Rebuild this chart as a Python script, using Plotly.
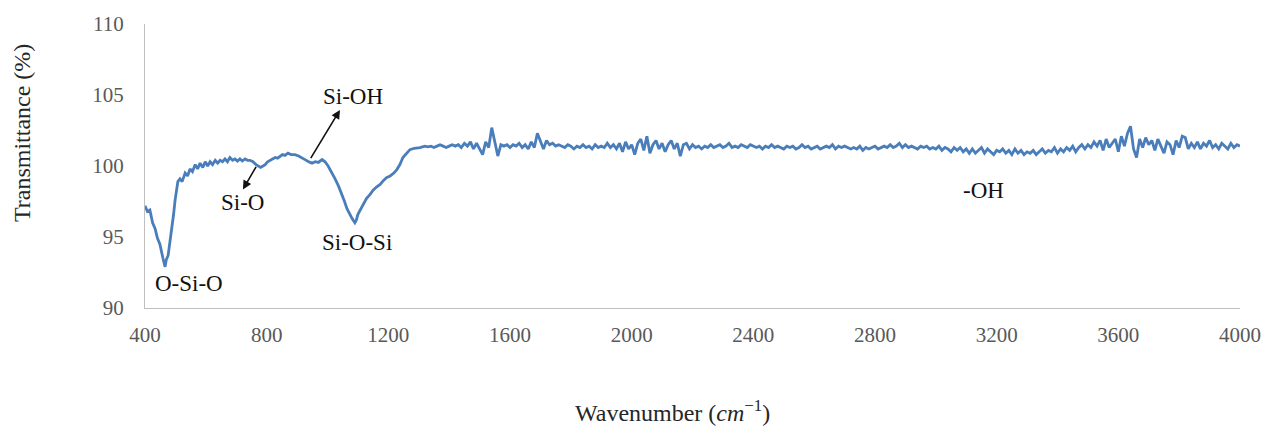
import plotly.graph_objects as go

# ---- data ----
# region with absorption bands (irregular sampling)
band_wn = [400, 408, 416, 425, 433, 441, 449, 455, 459, 466, 470, 476, 482, 489, 494, 499, 504, 508,
           515, 522, 532, 540, 548, 556, 565, 573, 581, 590, 598, 606, 614, 622, 631, 639, 647, 655,
           663, 671, 679, 688, 696, 704, 712, 720, 729, 737, 745, 755, 765, 772, 780, 788, 795, 803,
           811, 820, 828, 836, 844, 852, 860, 870, 880, 893, 905, 915, 926, 938, 949, 960, 970, 982,
           992, 1002, 1013, 1025, 1036, 1048, 1056, 1064, 1073, 1081, 1090, 1095, 1100, 1108, 1117,
           1128, 1140, 1150, 1160, 1173, 1185, 1195, 1206, 1218, 1228, 1238, 1248, 1260, 1271, 1285,
           1304, 1320, 1330]
band_t = [97.2, 96.8, 96.9, 96.0, 95.6, 94.9, 94.5, 93.8, 93.5, 92.9, 93.4, 93.7, 94.6, 95.5, 96.6,
          97.6, 98.4, 98.9, 99.1, 98.9, 99.5, 99.3, 99.8, 99.6, 100.1, 99.8, 100.2, 99.9, 100.3,
          100.0, 100.3, 100.1, 100.4, 100.2, 100.4, 100.3, 100.5, 100.3, 100.6, 100.4, 100.5, 100.35,
          100.5, 100.35, 100.5, 100.4, 100.4, 100.3, 100.1, 100.0, 99.9, 100.0, 100.1, 100.3, 100.4,
          100.5, 100.6, 100.55, 100.7, 100.8, 100.75, 100.9, 100.8, 100.8, 100.7, 100.6, 100.45, 100.3,
          100.2, 100.3, 100.25, 100.45, 100.3, 100.0, 99.6, 99.1, 98.6, 98.0, 97.5, 97.0, 96.6, 96.3,
          96.0, 96.2, 96.6, 96.9, 97.3, 97.7, 98.0, 98.3, 98.5, 98.7, 99.0, 99.2, 99.3, 99.5, 99.75,
          100.1, 100.6, 100.9, 101.15, 101.25, 101.3, 101.4, 101.35]

# flat, noisy region sampled every 10 cm^-1 from 1340 to 4000
flat_t = [
    101.4, 101.3, 101.4, 101.5, 101.4, 101.3,                                  # 1340-1390
    101.4, 101.5, 101.4, 101.5, 101.3, 101.6, 101.4, 101.7, 101.2, 101.6,      # 1400
    101.2, 100.8, 101.7, 101.3, 102.7, 101.6, 100.7, 101.5, 101.4, 101.5,      # 1500
    101.3, 101.5, 101.4, 101.6, 101.3, 101.5, 101.2, 101.7, 101.3, 102.3,      # 1600
    101.7, 101.2, 101.8, 101.5, 101.6, 101.4, 101.5, 101.4, 101.3, 101.5,      # 1700
    101.4, 101.2, 101.4, 101.3, 101.5, 101.3, 101.4, 101.2, 101.5, 101.3,      # 1800
    101.4, 101.3, 101.6, 101.3, 101.5, 101.2, 101.6, 101.0, 101.7, 101.2,      # 1900
    101.5, 100.8, 101.6, 101.9, 101.1, 102.1, 100.9, 101.5, 101.8, 101.2,      # 2000
    101.6, 101.0, 101.5, 101.8, 101.2, 101.6, 100.7, 101.5, 101.6, 101.2,      # 2100
    101.5, 101.3, 101.4, 101.2, 101.4, 101.3, 101.5, 101.3, 101.4, 101.5,      # 2200
    101.3, 101.4, 101.6, 101.3, 101.4, 101.3, 101.5, 101.4, 101.3, 101.5,      # 2300
    101.4, 101.3, 101.4, 101.2, 101.4, 101.3, 101.5, 101.3, 101.4, 101.3,      # 2400
    101.2, 101.4, 101.3, 101.4, 101.2, 101.3, 101.5, 101.3, 101.4, 101.2,      # 2500
    101.3, 101.4, 101.2, 101.3, 101.4, 101.3, 101.5, 101.2, 101.4, 101.3,      # 2600
    101.4, 101.3, 101.2, 101.3, 101.2, 101.4, 101.1, 101.3, 101.2, 101.3,      # 2700
    101.4, 101.2, 101.3, 101.4, 101.3, 101.5, 101.3, 101.4, 101.6, 101.3,      # 2800
    101.5, 101.3, 101.4, 101.3, 101.2, 101.4, 101.3, 101.4, 101.2, 101.3,      # 2900
    101.2, 101.4, 101.1, 101.3, 101.2, 101.0, 101.3, 101.1, 101.3, 101.0,      # 3000
    101.2, 100.9, 101.2, 100.9, 101.1, 101.3, 100.9, 101.2, 101.0, 100.8,      # 3100
    101.1, 101.0, 101.2, 100.9, 101.1, 100.8, 101.2, 100.9, 101.1, 100.8,      # 3200
    101.0, 100.9, 101.1, 100.8, 101.0, 101.2, 100.9, 101.1, 101.0, 101.3,      # 3300
    100.9, 101.2, 101.0, 101.3, 101.1, 101.4, 101.0, 101.3, 101.5, 101.2,      # 3400
    101.5, 101.3, 101.7, 101.4, 101.8, 101.1, 101.9, 101.3, 101.6, 101.9,      # 3500
    101.0, 102.1, 101.4, 102.3, 102.8, 101.2, 100.6, 101.9, 101.3, 102.0,      # 3600
    101.5, 101.8, 101.1, 101.9, 101.4, 100.9, 101.7, 101.5, 100.8, 101.8,      # 3700
    101.3, 102.1, 102.0, 101.2, 101.6, 101.3, 101.7, 101.2, 101.6, 101.4,      # 3800
    101.8, 101.3, 101.5, 101.2, 101.6, 101.4, 101.2, 101.6, 101.3, 101.5,      # 3900
    101.4,                                                                      # 4000
]
flat_wn = list(range(1340, 4001, 10))

wavenumber = band_wn + flat_wn
transmittance = band_t + flat_t

x_ticks = [400, 800, 1200, 1600, 2000, 2400, 2800, 3200, 3600, 4000]
y_ticks = [90, 95, 100, 105, 110]

# band labels: (text, wavenumber, transmittance)
band_labels = [
    ("O-Si-O", 545, 91.75),
    ("Si-O", 719, 97.45),
    ("Si-O-Si", 1097, 94.6),
    ("Si-OH", 1084, 104.9),
    ("-OH", 3158, 98.25),
]
# arrows: (head_wn, head_t, tail_wn, tail_t)
arrows = [
    (1041, 103.95, 942, 100.45),
    (722, 98.35, 768, 100.05),
]

SERIF = "Liberation Serif, Times New Roman, serif"

fig = go.Figure()
fig.add_trace(go.Scatter(
    x=wavenumber, y=transmittance, mode="lines",
    line=dict(color="#4A7EBB", width=2.8),
    showlegend=False, hoverinfo="skip",
))

annotations = []
for text, wx, ty in band_labels:
    annotations.append(dict(
        x=wx, y=ty, xref="x", yref="y", text=text, showarrow=False,
        font=dict(family=SERIF, size=23, color="#111111"),
        xanchor="center", yanchor="middle",
    ))
for hx, hy, tx, ty in arrows:
    annotations.append(dict(
        x=hx, y=hy, ax=tx, ay=ty, xref="x", yref="y", axref="x", ayref="y",
        text="", showarrow=True, arrowhead=2, arrowsize=1.1, arrowwidth=1.6,
        arrowcolor="#111111", standoff=0, startstandoff=0,
    ))
# axis titles (positioned in pixels, converted to paper coords below)
annotations.append(dict(
    x=672, y=434 - 413, xref="paper", yref="paper", text="Wavenumber (<i>cm</i><sup>−1</sup>)",
    showarrow=False, font=dict(family=SERIF, size=24, color="#262626"),
    xanchor="center", yanchor="middle",
))
annotations.append(dict(
    x=22, y=434 - 130, xref="paper", yref="paper", text="Transmittance (%)",
    showarrow=False, textangle=-90, font=dict(family=SERIF, size=24, color="#262626"),
    xanchor="center", yanchor="middle",
))

W, H = 1274, 434
ML, MR, MT, MB = 145, 34, 19, 126
pw, ph = W - ML - MR, H - MT - MB
for a in annotations[-2:]:
    a["x"] = (a["x"] - ML) / pw
    a["y"] = (a["y"] - MB) / ph

fig.update_layout(
    width=W, height=H,
    margin=dict(l=ML, r=MR, t=MT, b=MB, pad=0),
    paper_bgcolor="white", plot_bgcolor="white",
    annotations=annotations,
    font=dict(family=SERIF),
)
fig.update_xaxes(
    range=[400, 4000], tickvals=x_ticks, ticktext=[str(v) for v in x_ticks],
    showgrid=False, zeroline=False, showline=True, linecolor="#BFBFBF", linewidth=1.2,
    ticks="", ticklabelstandoff=8,
    tickfont=dict(family=SERIF, size=21, color="#595959"),
)
fig.update_yaxes(
    range=[90, 110], tickvals=y_ticks, ticktext=[str(v) for v in y_ticks],
    showgrid=False, zeroline=False, showline=True, linecolor="#BFBFBF", linewidth=1.2,
    ticks="", ticklabelstandoff=16,
    tickfont=dict(family=SERIF, size=21, color="#595959"),
)

fig.write_html("out.html")
